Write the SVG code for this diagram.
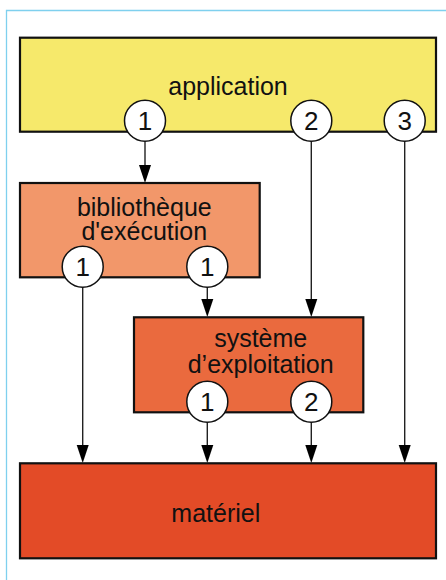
<svg xmlns="http://www.w3.org/2000/svg" width="446" height="580" viewBox="0 0 446 580">
<defs>
<style>
.box{stroke:#111;stroke-width:2.2}
.lbl{font-family:"Liberation Sans",Arial,sans-serif;font-size:25px;fill:#111;text-anchor:middle}
.c{fill:#fff;stroke:#111;stroke-width:1.5}
.n{font-family:"Liberation Sans",Arial,sans-serif;font-size:26px;fill:#111;text-anchor:middle}
.ln{stroke:#222;stroke-width:1.4;fill:none}
.ah{fill:#000}
</style>
</defs>
<rect width="446" height="580" fill="#fff"/>
<path d="M6.5,580 V10.5 H446" fill="none" stroke="#7fd0ee" stroke-width="1.3"/>
<g id="connectors">
<path class="ln" d="M145,141 V166"/><path class="ah" d="M139,165 L151,165 L145,183 Z"/>
<path class="ln" d="M207.3,287 V300"/><path class="ah" d="M201.3,299 L213.3,299 L207.3,317 Z"/>
<path class="ln" d="M311.3,141 V300"/><path class="ah" d="M305.3,299 L317.3,299 L311.3,317 Z"/>
<path class="ln" d="M82.7,287 V446"/><path class="ah" d="M76.7,445 L88.7,445 L82.7,463 Z"/>
<path class="ln" d="M207.3,422 V446"/><path class="ah" d="M201.3,445 L213.3,445 L207.3,463 Z"/>
<path class="ln" d="M311.3,422 V446"/><path class="ah" d="M305.3,445 L317.3,445 L311.3,463 Z"/>
<path class="ln" d="M404.7,141 V446"/><path class="ah" d="M398.7,445 L410.7,445 L404.7,463 Z"/>
</g>
<g id="application">
<rect class="box" x="20" y="37.7" width="416" height="94" fill="#f6e96b"/>
<text class="lbl" x="228" y="95">application</text>
</g>
<g id="bibliotheque">
<rect class="box" x="20" y="183" width="239.7" height="94.3" fill="#f2976a"/>
<text class="lbl" x="144.3" y="215.7">bibliothèque</text>
<text class="lbl" x="144.3" y="240">d'exécution</text>
</g>
<g id="systeme">
<rect class="box" x="134" y="317.3" width="229.3" height="95" fill="#ea6a3e"/>
<text class="lbl" x="260.7" y="346.7">système</text>
<text class="lbl" x="260.7" y="373.3">d’exploitation</text>
</g>
<g id="materiel">
<rect class="box" x="20" y="463.3" width="416" height="95" fill="#e34b27"/>
<text class="lbl" x="215.8" y="521.7">matériel</text>
</g>
<g id="app-c1"><circle class="c" cx="145" cy="120.7" r="20.5"/><text class="n" x="145" y="130">1</text></g>
<g id="app-c2"><circle class="c" cx="311.3" cy="120.7" r="20.5"/><text class="n" x="311.3" y="130">2</text></g>
<g id="app-c3"><circle class="c" cx="404.7" cy="120.7" r="20.5"/><text class="n" x="404.7" y="130">3</text></g>
<g id="bib-c1"><circle class="c" cx="82.7" cy="266.7" r="20.5"/><text class="n" x="82.7" y="276">1</text></g>
<g id="bib-c2"><circle class="c" cx="207.3" cy="266.7" r="20.5"/><text class="n" x="207.3" y="276">1</text></g>
<g id="sys-c1"><circle class="c" cx="207.3" cy="401.7" r="20.5"/><text class="n" x="207.3" y="411">1</text></g>
<g id="sys-c2"><circle class="c" cx="311.3" cy="401.7" r="20.5"/><text class="n" x="311.3" y="411">2</text></g>
</svg>
